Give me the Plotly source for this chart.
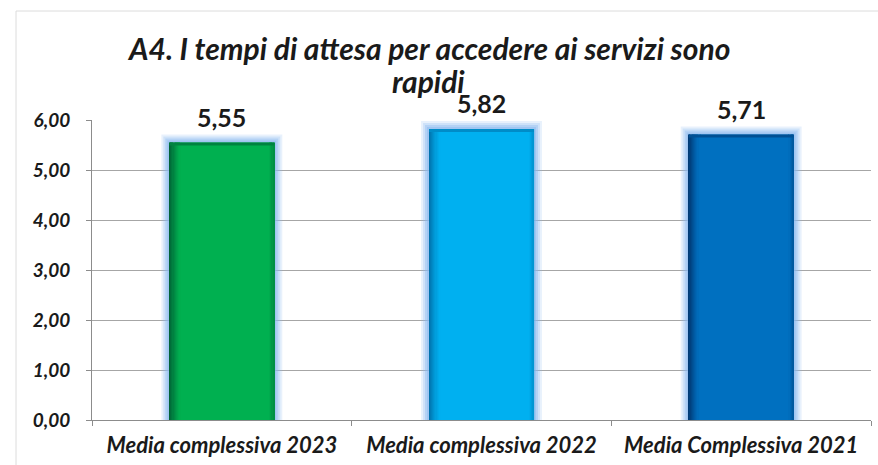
import plotly.graph_objects as go

# Data
categories = ["Media complessiva 2023", "Media complessiva 2022", "Media Complessiva 2021"]
values = [5.55, 5.82, 5.71]
y_ticks = [0, 1, 2, 3, 4, 5, 6]
title_lines = ["A4. I tempi di attesa per accedere ai servizi sono", "rapidi"]

# Styling
main_colors = [(0x00, 0xB0, 0x50), (0x00, 0xB0, 0xF0), (0x00, 0x70, 0xC0)]
edge_colors = [(0x00, 0x5E, 0x34), (0x00, 0x6E, 0xA8), (0x00, 0x36, 0x70)]
BAR_W = 0.404
PX_X = 1 / 259.7   # one pixel in category units
PX_Y = 6 / 300     # one pixel in value units
FONT = "Lato"
TXT = "#1a1a1a"


def mix(c1, c2, t):
    return "rgb(%d,%d,%d)" % tuple(round(a + (b - a) * t) for a, b in zip(c1, c2))


def darkness(t):
    # shading across the bar: dark left edge, flat middle, slightly dark right edge
    if t < 0.11:
        return (1 - t / 0.11) ** 1.3
    if t > 0.955:
        return (t - 0.955) / 0.045 * 0.45
    return 0.0


fig = go.Figure()

# soft glow around each bar
for d, a in [(8, 0.2), (6, 0.28), (4, 0.38), (2, 0.5)]:
    fig.add_trace(go.Bar(
        x=categories, y=[v + d * PX_Y for v in values],
        width=[BAR_W + 2 * d * PX_X] * len(values),
        marker=dict(color="rgba(140,185,240,%.2f)" % a, line=dict(width=0)),
        hoverinfo="skip", showlegend=False,
    ))

# bar body drawn as vertical slices for a horizontal gradient
edges = [i * 0.11 / 10 for i in range(11)] + [0.955] + [0.955 + i * 0.045 / 4 for i in range(1, 5)]
for a, b in zip(edges[:-1], edges[1:]):
    t = darkness((a + b) / 2)
    fig.add_trace(go.Bar(
        x=categories, y=values,
        width=[(b - a) * BAR_W + 0.0008] * len(values),
        offset=[-BAR_W / 2 + a * BAR_W] * len(values),
        marker=dict(color=[mix(m, e, t) for m, e in zip(main_colors, edge_colors)], line=dict(width=0)),
        hoverinfo="skip", showlegend=False,
    ))

# darker top rim
fig.add_trace(go.Bar(
    x=categories, y=[3 * PX_Y] * len(values), base=[v - 3 * PX_Y for v in values],
    width=[BAR_W] * len(values),
    marker=dict(color=[mix(m, e, 0.55) for m, e in zip(main_colors, edge_colors)], line=dict(width=0)),
    hoverinfo="skip", showlegend=False,
))

# value labels
for c, v in zip(categories, values):
    fig.add_annotation(
        x=c, y=v, text=f"{v:.2f}".replace(".", ","), showarrow=False,
        yanchor="middle", yshift=26,
        font=dict(family=FONT, size=25, color=TXT, weight="bold"),
    )

# two-line title
for line, py in zip(title_lines, [48, 81]):
    fig.add_annotation(
        xref="paper", yref="paper", x=(428 - 92) / 779, y=(420 - py) / 300,
        text=line, showarrow=False, xanchor="center", yanchor="middle",
        font=dict(family=FONT, size=30, color=TXT, weight="bold", style="italic"),
    )

fig.update_layout(
    width=878, height=465,
    margin=dict(l=92, r=7, t=120, b=45),
    paper_bgcolor="white", plot_bgcolor="white",
    barmode="overlay", separators=",.",
    xaxis=dict(
        showgrid=False, showline=True, linecolor="#8c8c8c", linewidth=1,
        ticks="outside", tickson="boundaries", ticklen=5, tickcolor="#8c8c8c",
        ticklabelstandoff=6,
        tickfont=dict(family=FONT, size=22, color=TXT, weight="bold", style="italic"),
    ),
    yaxis=dict(
        range=[0, 6], tickvals=y_ticks, tickformat=".2f",
        showgrid=True, gridcolor="#a6a6a6", gridwidth=1,
        showline=True, linecolor="#8c8c8c", linewidth=1,
        ticks="outside", ticklen=5, tickcolor="#8c8c8c",
        ticklabelstandoff=12,
        zeroline=False,
        tickfont=dict(family=FONT, size=19, color=TXT, weight="bold", style="italic"),
    ),
    shapes=[dict(
        type="rect", xref="paper", yref="paper",
        x0=(16 - 92) / 779, x1=1.05, y0=-0.2, y1=(420 - 11) / 300,
        line=dict(color="#dcdcdc", width=1), fillcolor="rgba(0,0,0,0)", layer="below",
    )],
)

fig.write_html("out.html")
